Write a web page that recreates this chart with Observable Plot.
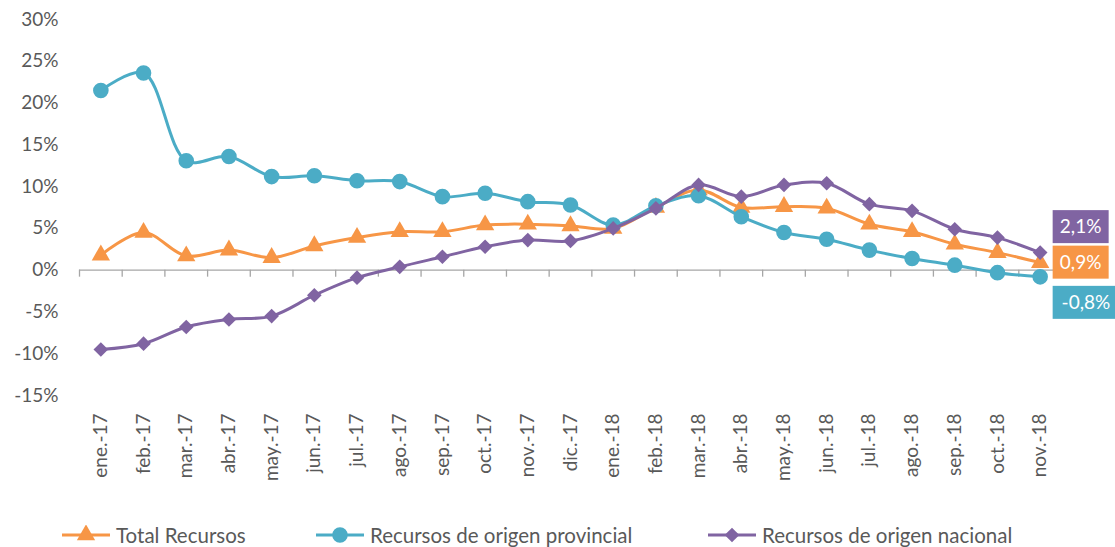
<!DOCTYPE html>
<html>
<head>
<meta charset="utf-8">
<script src="https://cdn.jsdelivr.net/npm/d3@7"></script>
<script src="https://cdn.jsdelivr.net/npm/@observablehq/plot@0.6"></script>
<style>
  html, body { margin: 0; padding: 0; background: #fff; }
  body { width: 1115px; height: 547px; overflow: hidden; font-family: Lato, "Open Sans", sans-serif; }
  #chart svg { display: block; }
  #legend { position: relative; height: 37px; color: #595959; font-size: 20.5px; }
  .item { position: absolute; top: 13px; display: flex; align-items: center; white-space: nowrap; }
  .item svg { display: block; margin-right: 6px; }
</style>
</head>
<body>
<div id="chart"></div>
<div id="legend"></div>
<script>
const months = ["ene.-17","feb.-17","mar.-17","abr.-17","may.-17","jun.-17","jul.-17","ago.-17","sep.-17","oct.-17","nov.-17","dic.-17",
                "ene.-18","feb.-18","mar.-18","abr.-18","may.-18","jun.-18","jul.-18","ago.-18","sep.-18","oct.-18","nov.-18"];
const totalRecursos = [1.8, 4.5, 1.7, 2.4, 1.5, 2.9, 3.9, 4.6, 4.6, 5.4, 5.5, 5.3, 5.0, 7.5, 9.6, 7.5, 7.6, 7.4, 5.5, 4.6, 3.1, 2.1, 0.9];
const provincial   = [21.5, 23.6, 13.1, 13.6, 11.2, 11.3, 10.7, 10.6, 8.8, 9.2, 8.2, 7.8, 5.4, 7.7, 8.9, 6.4, 4.5, 3.7, 2.4, 1.4, 0.6, -0.3, -0.8];
const nacional     = [-9.5, -8.8, -6.8, -5.9, -5.5, -3.0, -0.9, 0.4, 1.6, 2.8, 3.6, 3.5, 5.0, 7.4, 10.2, 8.8, 10.2, 10.4, 7.9, 7.1, 4.9, 3.9, 2.1];
const seriesNames  = ["Total Recursos", "Recursos de origen provincial", "Recursos de origen nacional"];
const seriesValues = [totalRecursos, provincial, nacional];
const colors       = ["#F79646", "#4BACC6", "#8064A2"];
const symbols      = ["triangle", "circle", "diamond2"];
const yTicks       = [-15, -10, -5, 0, 5, 10, 15, 20, 25, 30];

const textColor = "#595959";
const axisColor = "#A6A6A6";

const rows = seriesNames.map((s, k) => seriesValues[k].map((v, i) => ({series: s, k, i, month: months[i], value: v})));
const fmt = v => v.toFixed(1).replace(".", ",") + "%";
const lastRows = rows.map(r => {
  const d = r[r.length - 1];
  return {...d, label: fmt(d.value)};
});
const labelOffset = [0, 26, -25.5];   // vertical nudges of the end-label boxes (px)
const symbolR = [6.8, 7.8, 6.6];

const boundaries = d3.range(months.length + 1).map(k => k - 0.5);

const marks = [
  Plot.ruleY([0], {stroke: axisColor, strokeWidth: 1.3}),
  Plot.ruleX(boundaries, {x: d => d, y1: 0, y2: 0, insetBottom: -7, stroke: axisColor, strokeWidth: 1.3}),
  Plot.axisY({ticks: yTicks, tickFormat: d => d + "%", tickSize: 0, tickPadding: 21, fontSize: 19, color: textColor, label: null}),
  Plot.axisX({ticks: d3.range(months.length), tickFormat: i => months[i], tickRotate: -90, tickSize: 0, tickPadding: 18, fontSize: 19, color: textColor, label: null, letterSpacing: "1.2px"})
];
rows.forEach((r, k) => {
  marks.push(Plot.line(r, {x: "i", y: "value", stroke: colors[k], strokeWidth: 3, curve: "catmull-rom"}));
  marks.push(Plot.dot(r, {x: "i", y: "value", symbol: () => symbols[k], r: symbolR[k], fill: colors[k], stroke: "none"}));
});
marks.push(Plot.text(lastRows, {
  x: "i", y: "value", text: "label",
  render: (index, scales, values) => {
    const g = d3.create("svg:g");
    for (const j of index) {
      const d = lastRows[j];
      const left = values.x[j] + 13;
      const w = 14 + 10.5 * d.label.length;
      const cy = values.y[j] + labelOffset[d.k];
      g.append("rect").attr("x", left).attr("y", cy - 16.5).attr("width", w).attr("height", 33).attr("fill", colors[d.k]);
      g.append("text").attr("x", left + w / 2).attr("y", cy).attr("dy", "0.35em")
        .attr("text-anchor", "middle").attr("fill", "#fff").attr("font-size", 19).text(d.label);
    }
    return g.node();
  }
}));

const chart = Plot.plot({
  width: 1115,
  height: 510,
  marginTop: 19,
  marginLeft: 79,
  marginRight: 54,
  marginBottom: 115,
  style: {fontFamily: "Lato, 'Open Sans', sans-serif", background: "#fff"},
  x: {domain: [-0.5, months.length - 0.5]},
  y: {domain: [-15, 30]},
  marks
});
document.getElementById("chart").appendChild(chart);

// Legend
const legend = document.getElementById("legend");
const legendLeft = [62, 316, 708];
seriesNames.forEach((s, k) => {
  const item = document.createElement("div");
  item.className = "item";
  item.style.left = legendLeft[k] + "px";
  const sw = d3.create("svg").attr("width", 48).attr("height", 20);
  sw.append("line").attr("x1", 0).attr("x2", 48).attr("y1", 10).attr("y2", 10).attr("stroke", colors[k]).attr("stroke-width", 3);
  sw.append("path").attr("transform", "translate(24,10)").attr("fill", colors[k])
    .attr("d", d3.symbol(k === 0 ? d3.symbolTriangle : k === 1 ? d3.symbolCircle : d3.symbolDiamond2, Math.PI * symbolR[k] * symbolR[k])());
  item.appendChild(sw.node());
  const t = document.createElement("span");
  t.textContent = s;
  item.appendChild(t);
  legend.appendChild(item);
});
</script>
</body>
</html>
